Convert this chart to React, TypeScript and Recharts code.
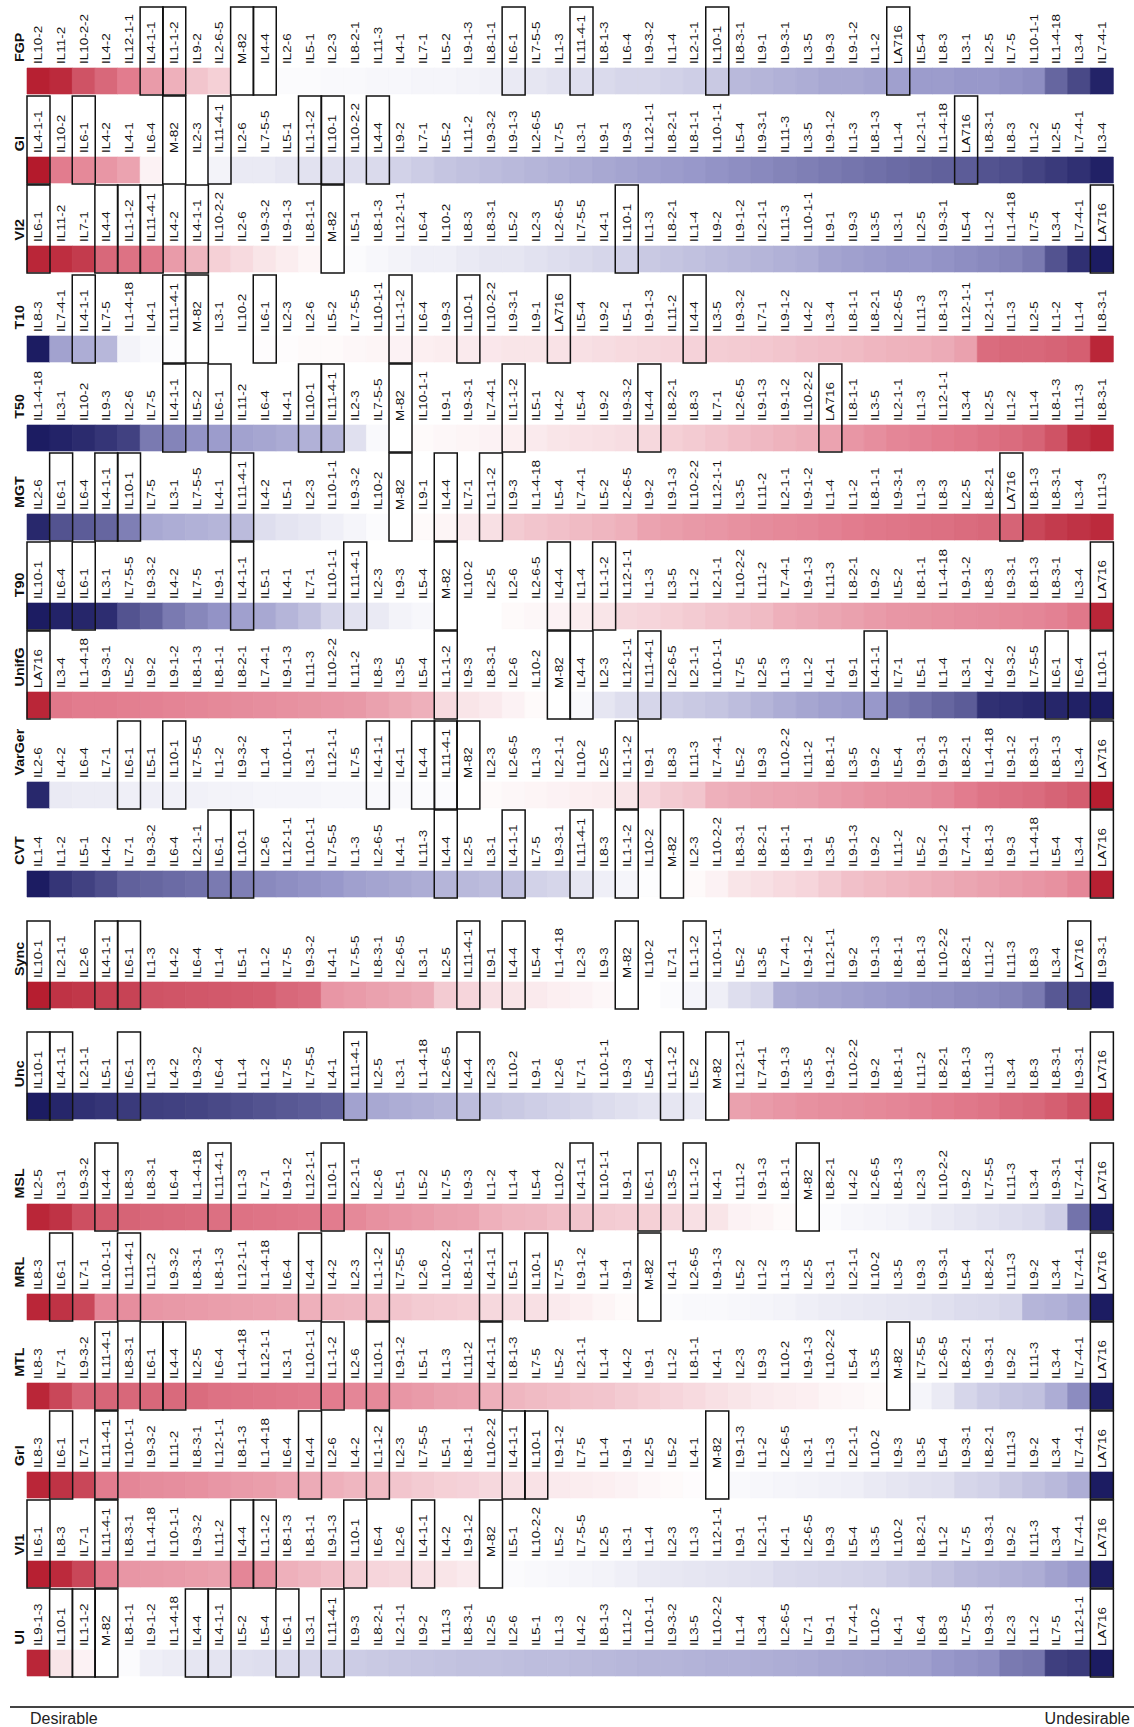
import { Bar, BarChart, Cell, XAxis, YAxis } from 'recharts'

const fgpLines = [
  'IL10-2', 'IL11-2', 'IL10-2-2', 'IL4-2', 'IL12-1-1', 'IL4-1-1', 'IL1-1-2', 'IL9-2',
  'IL2-6-5', 'M-82', 'IL4-4', 'IL2-6', 'IL5-1', 'IL2-3', 'IL8-2-1', 'IL11-3',
  'IL4-1', 'IL7-1', 'IL5-2', 'IL9-1-3', 'IL8-1-1', 'IL6-1', 'IL7-5-5', 'IL1-3',
  'IL11-4-1', 'IL8-1-3', 'IL6-4', 'IL9-3-2', 'IL1-4', 'IL2-1-1', 'IL10-1', 'IL8-3-1',
  'IL9-1', 'IL9-3-1', 'IL3-5', 'IL9-3', 'IL9-1-2', 'IL1-2', 'LA716', 'IL5-4',
  'IL8-3', 'IL3-1', 'IL2-5', 'IL7-5', 'IL10-1-1', 'IL1-4-18', 'IL3-4', 'IL7-4-1',
]
const fgpValues = [
  0.95, 0.9, 0.7, 0.6, 0.5, 0.38, 0.3, 0.22,
  0.18, 0, 0, -0.02, -0.02, -0.03, -0.03, -0.04,
  -0.04, -0.05, -0.05, -0.06, -0.07, -0.1, -0.12, -0.14,
  -0.16, -0.18, -0.2, -0.2, -0.22, -0.24, -0.26, -0.34,
  -0.36, -0.38, -0.4, -0.42, -0.42, -0.44, -0.46, -0.48,
  -0.48, -0.5, -0.5, -0.52, -0.54, -0.7, -0.82, -0.97,
]

const giLines = [
  'IL4-1-1', 'IL10-2', 'IL6-1', 'IL4-2', 'IL4-1', 'IL6-4', 'M-82', 'IL2-3',
  'IL11-4-1', 'IL2-6', 'IL7-5-5', 'IL5-1', 'IL1-1-2', 'IL10-1', 'IL10-2-2', 'IL4-4',
  'IL9-2', 'IL7-1', 'IL5-2', 'IL11-2', 'IL9-3-2', 'IL9-1-3', 'IL2-6-5', 'IL7-5',
  'IL3-1', 'IL9-1', 'IL9-3', 'IL12-1-1', 'IL8-2-1', 'IL8-1-1', 'IL10-1-1', 'IL5-4',
  'IL9-3-1', 'IL11-3', 'IL3-5', 'IL9-1-2', 'IL1-3', 'IL8-1-3', 'IL1-4', 'IL2-1-1',
  'IL1-4-18', 'LA716', 'IL8-3-1', 'IL8-3', 'IL1-2', 'IL2-5', 'IL7-4-1', 'IL3-4',
]
const giValues = [
  0.98, 0.5, 0.45, 0.4, 0.35, 0.05, 0, 0,
  -0.06, -0.1, -0.1, -0.12, -0.14, -0.15, -0.16, -0.18,
  -0.22, -0.25, -0.28, -0.3, -0.32, -0.34, -0.36, -0.38,
  -0.4, -0.42, -0.44, -0.46, -0.48, -0.5, -0.52, -0.54,
  -0.56, -0.58, -0.6, -0.62, -0.64, -0.66, -0.68, -0.7,
  -0.72, -0.74, -0.78, -0.8, -0.84, -0.88, -0.92, -0.98,
]

const vi2Lines = [
  'IL6-1', 'IL11-2', 'IL7-1', 'IL4-4', 'IL1-1-2', 'IL11-4-1', 'IL4-2', 'IL4-1-1',
  'IL10-2-2', 'IL2-6', 'IL9-3-2', 'IL9-1-3', 'IL8-1-1', 'M-82', 'IL5-1', 'IL8-1-3',
  'IL12-1-1', 'IL6-4', 'IL10-2', 'IL8-3', 'IL8-3-1', 'IL5-2', 'IL2-3', 'IL2-6-5',
  'IL7-5-5', 'IL4-1', 'IL10-1', 'IL1-3', 'IL8-2-1', 'IL1-4', 'IL9-2', 'IL9-1-2',
  'IL2-1-1', 'IL11-3', 'IL10-1-1', 'IL9-1', 'IL9-3', 'IL3-5', 'IL3-1', 'IL2-5',
  'IL9-3-1', 'IL5-4', 'IL1-2', 'IL1-4-18', 'IL7-5', 'IL3-4', 'IL7-4-1', 'LA716',
]
const vi2Values = [
  0.92, 0.88, 0.82, 0.6, 0.55, 0.52, 0.38, 0.28,
  0.18, 0.14, 0.1, 0.07, 0.04, 0, -0.02, -0.04,
  -0.06, -0.08, -0.08, -0.1, -0.12, -0.12, -0.14, -0.16,
  -0.18, -0.2, -0.22, -0.26, -0.28, -0.3, -0.32, -0.34,
  -0.36, -0.38, -0.4, -0.44, -0.46, -0.48, -0.5, -0.5,
  -0.52, -0.54, -0.56, -0.58, -0.62, -0.78, -0.92, -1,
]

const t10Lines = [
  'IL8-3', 'IL7-4-1', 'IL4-1-1', 'IL7-5', 'IL1-4-18', 'IL4-1', 'IL11-4-1', 'M-82',
  'IL3-1', 'IL10-2', 'IL6-1', 'IL2-3', 'IL2-6', 'IL5-2', 'IL7-5-5', 'IL10-1-1',
  'IL1-1-2', 'IL6-4', 'IL9-3', 'IL10-1', 'IL10-2-2', 'IL9-3-1', 'IL9-1', 'LA716',
  'IL5-4', 'IL9-2', 'IL5-1', 'IL9-1-3', 'IL11-2', 'IL4-4', 'IL3-5', 'IL9-3-2',
  'IL7-1', 'IL9-1-2', 'IL4-2', 'IL3-4', 'IL8-1-1', 'IL8-2-1', 'IL2-6-5', 'IL11-3',
  'IL8-1-3', 'IL12-1-1', 'IL2-1-1', 'IL1-3', 'IL2-5', 'IL1-2', 'IL1-4', 'IL8-3-1',
]
const t10Values = [
  -1, -0.45, -0.4, -0.35, -0.06, -0.03, -0.01, 0,
  0, 0, 0.01, 0.01, 0.02, 0.02, 0.03, 0.04,
  0.05, 0.06, 0.07, 0.08, 0.09, 0.1, 0.1, 0.11,
  0.12, 0.13, 0.14, 0.15, 0.16, 0.17, 0.19, 0.2,
  0.21, 0.22, 0.24, 0.25, 0.26, 0.28, 0.29, 0.3,
  0.32, 0.36, 0.58, 0.6, 0.6, 0.62, 0.64, 0.92,
]

const t50Lines = [
  'IL1-4-18', 'IL3-1', 'IL10-2', 'IL9-3', 'IL2-6', 'IL7-5', 'IL4-1-1', 'IL5-2',
  'IL6-1', 'IL11-2', 'IL6-4', 'IL4-1', 'IL10-1', 'IL11-4-1', 'IL2-3', 'IL7-5-5',
  'M-82', 'IL10-1-1', 'IL9-1', 'IL9-3-1', 'IL7-4-1', 'IL1-1-2', 'IL5-1', 'IL4-2',
  'IL5-4', 'IL9-2', 'IL9-3-2', 'IL4-4', 'IL8-2-1', 'IL8-3', 'IL7-1', 'IL2-6-5',
  'IL9-1-3', 'IL9-1-2', 'IL10-2-2', 'LA716', 'IL8-1-1', 'IL3-5', 'IL2-1-1', 'IL1-3',
  'IL12-1-1', 'IL3-4', 'IL2-5', 'IL1-2', 'IL1-4', 'IL8-1-3', 'IL11-3', 'IL8-3-1',
]
const t50Values = [
  -1, -0.97, -0.94, -0.9, -0.85, -0.62, -0.58, -0.52,
  -0.48, -0.45, -0.43, -0.41, -0.38, -0.36, -0.15, -0.03,
  0, 0.02, 0.03, 0.04, 0.05, 0.06, 0.08, 0.1,
  0.11, 0.12, 0.13, 0.15, 0.18, 0.2, 0.22, 0.25,
  0.27, 0.29, 0.31, 0.35, 0.4, 0.43, 0.46, 0.48,
  0.5, 0.52, 0.55, 0.58, 0.62, 0.7, 0.86, 0.92,
]

const mgtLines = [
  'IL2-6', 'IL6-1', 'IL6-4', 'IL4-1-1', 'IL10-1', 'IL7-5', 'IL3-1', 'IL7-5-5',
  'IL4-1', 'IL11-4-1', 'IL4-2', 'IL5-1', 'IL2-3', 'IL10-1-1', 'IL9-3-2', 'IL10-2',
  'M-82', 'IL9-1', 'IL4-4', 'IL7-1', 'IL1-1-2', 'IL9-3', 'IL1-4-18', 'IL5-4',
  'IL7-4-1', 'IL5-2', 'IL2-6-5', 'IL9-2', 'IL9-1-3', 'IL10-2-2', 'IL12-1-1', 'IL3-5',
  'IL11-2', 'IL2-1-1', 'IL9-1-2', 'IL1-4', 'IL1-2', 'IL8-1-1', 'IL9-3-1', 'IL1-3',
  'IL8-3', 'IL2-5', 'IL8-2-1', 'LA716', 'IL8-1-3', 'IL8-3-1', 'IL3-4', 'IL11-3',
]
const mgtValues = [
  -0.95, -0.78, -0.74, -0.7, -0.6, -0.42, -0.4, -0.38,
  -0.36, -0.33, -0.16, -0.13, -0.11, -0.08, -0.05, -0.02,
  0, 0.02, 0.04, 0.08, 0.12, 0.2, 0.22, 0.24,
  0.26, 0.28, 0.3, 0.35, 0.37, 0.39, 0.4, 0.42,
  0.44, 0.45, 0.46, 0.48, 0.5, 0.52, 0.53, 0.55,
  0.56, 0.58, 0.6, 0.62, 0.76, 0.82, 0.86, 0.9,
]

const t90Lines = [
  'IL10-1', 'IL6-4', 'IL6-1', 'IL3-1', 'IL7-5-5', 'IL9-3-2', 'IL4-2', 'IL7-5',
  'IL9-1', 'IL4-1-1', 'IL5-1', 'IL4-1', 'IL7-1', 'IL10-1-1', 'IL11-4-1', 'IL2-3',
  'IL9-3', 'IL5-4', 'M-82', 'IL10-2', 'IL2-5', 'IL2-6', 'IL2-6-5', 'IL4-4',
  'IL1-4', 'IL1-1-2', 'IL12-1-1', 'IL1-3', 'IL3-5', 'IL1-2', 'IL2-1-1', 'IL10-2-2',
  'IL11-2', 'IL7-4-1', 'IL9-1-3', 'IL11-3', 'IL8-2-1', 'IL9-2', 'IL5-2', 'IL8-1-1',
  'IL1-4-18', 'IL9-1-2', 'IL8-3', 'IL9-3-1', 'IL8-1-3', 'IL8-3-1', 'IL3-4', 'LA716',
]
const t90Values = [
  -1, -0.97, -0.96, -0.93, -0.78, -0.72, -0.62, -0.57,
  -0.52, -0.46, -0.42, -0.36, -0.3, -0.2, -0.14, -0.1,
  -0.06, -0.04, 0, 0, 0, 0.02, 0.03, 0.05,
  0.07, 0.1, 0.15, 0.16, 0.18, 0.2, 0.22, 0.24,
  0.26, 0.3, 0.32, 0.34, 0.36, 0.38, 0.4, 0.41,
  0.42, 0.43, 0.44, 0.45, 0.46, 0.48, 0.52, 0.92,
]

const unifgLines = [
  'LA716', 'IL3-4', 'IL1-4-18', 'IL9-3-1', 'IL5-2', 'IL9-2', 'IL9-1-2', 'IL8-1-3',
  'IL8-1-1', 'IL8-2-1', 'IL7-4-1', 'IL9-1-3', 'IL11-3', 'IL10-2-2', 'IL11-2', 'IL8-3',
  'IL3-5', 'IL5-4', 'IL1-1-2', 'IL9-3', 'IL8-3-1', 'IL2-6', 'IL10-2', 'M-82',
  'IL4-4', 'IL2-3', 'IL12-1-1', 'IL11-4-1', 'IL2-6-5', 'IL2-1-1', 'IL10-1-1', 'IL7-5',
  'IL2-5', 'IL1-3', 'IL1-2', 'IL4-1', 'IL9-1', 'IL4-1-1', 'IL7-1', 'IL5-1',
  'IL1-4', 'IL3-1', 'IL4-2', 'IL9-3-2', 'IL7-5-5', 'IL6-1', 'IL6-4', 'IL10-1',
]
const unifgValues = [
  0.92, 0.52, 0.5, 0.5, 0.49, 0.48, 0.47, 0.46,
  0.45, 0.44, 0.43, 0.42, 0.41, 0.4, 0.39, 0.36,
  0.33, 0.3, 0.14, 0.1, 0.08, 0.05, 0.02, 0,
  -0.03, -0.12, -0.16, -0.2, -0.24, -0.26, -0.28, -0.32,
  -0.36, -0.4, -0.43, -0.46, -0.48, -0.5, -0.62, -0.66,
  -0.7, -0.74, -0.92, -0.93, -0.95, -0.96, -0.98, -1,
]

const vargerLines = [
  'IL2-6', 'IL4-2', 'IL6-4', 'IL7-1', 'IL6-1', 'IL5-1', 'IL10-1', 'IL7-5-5',
  'IL1-2', 'IL9-3-2', 'IL1-4', 'IL10-1-1', 'IL3-1', 'IL12-1-1', 'IL7-5', 'IL4-1-1',
  'IL4-1', 'IL4-4', 'IL11-4-1', 'M-82', 'IL2-3', 'IL2-6-5', 'IL1-3', 'IL2-1-1',
  'IL10-2', 'IL2-5', 'IL1-1-2', 'IL9-1', 'IL8-3', 'IL11-3', 'IL7-4-1', 'IL5-2',
  'IL9-3', 'IL10-2-2', 'IL11-2', 'IL8-1-1', 'IL3-5', 'IL9-2', 'IL5-4', 'IL9-3-1',
  'IL9-1-3', 'IL8-2-1', 'IL1-4-18', 'IL9-1-2', 'IL8-3-1', 'IL8-1-3', 'IL3-4', 'LA716',
]
const vargerValues = [
  -0.95, -0.1, -0.09, -0.09, -0.08, -0.08, -0.07, -0.07,
  -0.06, -0.06, -0.05, -0.05, -0.05, -0.04, -0.04, -0.03,
  -0.03, -0.02, -0.02, 0, 0.02, 0.03, 0.04, 0.05,
  0.06, 0.07, 0.1, 0.16, 0.2, 0.22, 0.3, 0.32,
  0.34, 0.35, 0.36, 0.38, 0.4, 0.42, 0.43, 0.44,
  0.46, 0.5, 0.54, 0.56, 0.58, 0.62, 0.65, 0.96,
]

const cvtLines = [
  'IL1-4', 'IL1-2', 'IL5-1', 'IL4-2', 'IL7-1', 'IL9-3-2', 'IL6-4', 'IL2-1-1',
  'IL6-1', 'IL10-1', 'IL2-6', 'IL12-1-1', 'IL10-1-1', 'IL7-5-5', 'IL1-3', 'IL2-6-5',
  'IL4-1', 'IL11-3', 'IL4-4', 'IL2-5', 'IL3-1', 'IL4-1-1', 'IL7-5', 'IL9-3-1',
  'IL11-4-1', 'IL8-3', 'IL1-1-2', 'IL10-2', 'M-82', 'IL2-3', 'IL10-2-2', 'IL8-3-1',
  'IL8-2-1', 'IL8-1-1', 'IL9-1', 'IL3-5', 'IL9-1-3', 'IL9-2', 'IL11-2', 'IL5-2',
  'IL9-1-2', 'IL7-4-1', 'IL8-1-3', 'IL9-3', 'IL1-4-18', 'IL5-4', 'IL3-4', 'LA716',
]
const cvtValues = [
  -1, -0.9, -0.85, -0.8, -0.72, -0.7, -0.68, -0.66,
  -0.62, -0.6, -0.56, -0.54, -0.52, -0.5, -0.46, -0.44,
  -0.42, -0.4, -0.36, -0.34, -0.32, -0.3, -0.22, -0.2,
  -0.12, -0.08, -0.05, -0.01, 0, 0.02, 0.05, 0.1,
  0.12, 0.14, 0.16, 0.2, 0.24, 0.26, 0.28, 0.3,
  0.32, 0.34, 0.36, 0.38, 0.4, 0.42, 0.46, 0.95,
]

const syncLines = [
  'IL10-1', 'IL2-1-1', 'IL2-6', 'IL4-1-1', 'IL6-1', 'IL1-3', 'IL4-2', 'IL6-4',
  'IL1-4', 'IL5-1', 'IL1-2', 'IL7-5', 'IL9-3-2', 'IL4-1', 'IL7-5-5', 'IL8-3-1',
  'IL2-6-5', 'IL3-1', 'IL2-5', 'IL11-4-1', 'IL9-1', 'IL4-4', 'IL5-4', 'IL1-4-18',
  'IL2-3', 'IL9-3', 'M-82', 'IL10-2', 'IL7-1', 'IL1-1-2', 'IL10-1-1', 'IL5-2',
  'IL3-5', 'IL7-4-1', 'IL9-1-2', 'IL12-1-1', 'IL9-2', 'IL9-1-3', 'IL8-1-1', 'IL8-1-3',
  'IL10-2-2', 'IL8-2-1', 'IL11-2', 'IL11-3', 'IL8-3', 'IL3-4', 'LA716', 'IL9-3-1',
]
const syncValues = [
  0.96, 0.86, 0.84, 0.8, 0.78, 0.7, 0.69, 0.68,
  0.67, 0.66, 0.65, 0.6, 0.58, 0.4, 0.38, 0.36,
  0.34, 0.32, 0.2, 0.16, 0.12, 0.1, 0.08, 0.06,
  0.05, 0.03, 0, 0, -0.02, -0.05, -0.08, -0.16,
  -0.2, -0.4, -0.42, -0.44, -0.46, -0.48, -0.5, -0.52,
  -0.53, -0.55, -0.56, -0.58, -0.62, -0.76, -0.86, -1,
]

const uncLines = [
  'IL10-1', 'IL4-1-1', 'IL2-1-1', 'IL5-1', 'IL6-1', 'IL1-3', 'IL4-2', 'IL9-3-2',
  'IL6-4', 'IL1-4', 'IL1-2', 'IL7-5', 'IL7-5-5', 'IL4-1', 'IL11-4-1', 'IL2-5',
  'IL3-1', 'IL1-4-18', 'IL2-6-5', 'IL4-4', 'IL2-3', 'IL10-2', 'IL9-1', 'IL2-6',
  'IL7-1', 'IL10-1-1', 'IL9-3', 'IL5-4', 'IL1-1-2', 'IL5-2', 'M-82', 'IL12-1-1',
  'IL7-4-1', 'IL9-1-3', 'IL3-5', 'IL9-1-2', 'IL10-2-2', 'IL9-2', 'IL8-1-1', 'IL11-2',
  'IL8-2-1', 'IL8-1-3', 'IL11-3', 'IL3-4', 'IL8-3', 'IL8-3-1', 'IL9-3-1', 'LA716',
]
const uncValues = [
  -1, -0.96, -0.92, -0.9, -0.88, -0.86, -0.85, -0.84,
  -0.82, -0.8, -0.78, -0.76, -0.74, -0.72, -0.45, -0.42,
  -0.4, -0.38, -0.36, -0.32, -0.28, -0.26, -0.24, -0.22,
  -0.2, -0.17, -0.15, -0.13, -0.12, -0.1, 0, 0.36,
  0.38, 0.4, 0.42, 0.43, 0.44, 0.45, 0.46, 0.48,
  0.5, 0.52, 0.54, 0.58, 0.6, 0.64, 0.7, 0.92,
]

const mslLines = [
  'IL2-5', 'IL3-1', 'IL9-3-2', 'IL4-4', 'IL8-3', 'IL8-3-1', 'IL6-4', 'IL1-4-18',
  'IL11-4-1', 'IL1-3', 'IL7-1', 'IL9-1-2', 'IL12-1-1', 'IL10-1', 'IL2-1-1', 'IL2-6',
  'IL5-1', 'IL5-2', 'IL7-5', 'IL9-3', 'IL1-2', 'IL1-4', 'IL5-4', 'IL10-2',
  'IL4-1-1', 'IL10-1-1', 'IL9-1', 'IL6-1', 'IL3-5', 'IL1-1-2', 'IL4-1', 'IL11-2',
  'IL9-1-3', 'IL8-1-1', 'M-82', 'IL8-2-1', 'IL4-2', 'IL2-6-5', 'IL8-1-3', 'IL2-3',
  'IL10-2-2', 'IL9-2', 'IL7-5-5', 'IL11-3', 'IL3-4', 'IL9-3-1', 'IL7-4-1', 'LA716',
]
const mslValues = [
  0.92, 0.86, 0.72, 0.66, 0.62, 0.6, 0.59, 0.58,
  0.56, 0.55, 0.54, 0.53, 0.52, 0.5, 0.45, 0.42,
  0.4, 0.38, 0.36, 0.35, 0.3, 0.28, 0.27, 0.25,
  0.22, 0.2, 0.19, 0.18, 0.15, 0.12, 0.1, 0.05,
  0.04, 0.02, 0, -0.02, -0.04, -0.05, -0.06, -0.08,
  -0.1, -0.12, -0.14, -0.16, -0.18, -0.24, -0.65, -1,
]

const mrlLines = [
  'IL8-3', 'IL6-1', 'IL7-1', 'IL10-1-1', 'IL11-4-1', 'IL11-2', 'IL9-3-2', 'IL8-3-1',
  'IL8-1-3', 'IL12-1-1', 'IL1-4-18', 'IL6-4', 'IL4-4', 'IL4-2', 'IL2-3', 'IL1-1-2',
  'IL7-5-5', 'IL2-6', 'IL10-2-2', 'IL8-1-1', 'IL4-1-1', 'IL5-1', 'IL10-1', 'IL7-5',
  'IL9-1-2', 'IL1-4', 'IL9-1', 'M-82', 'IL4-1', 'IL2-6-5', 'IL9-1-3', 'IL5-2',
  'IL1-2', 'IL1-3', 'IL2-5', 'IL3-1', 'IL2-1-1', 'IL10-2', 'IL3-5', 'IL9-3',
  'IL9-3-1', 'IL5-4', 'IL8-2-1', 'IL11-3', 'IL9-2', 'IL3-4', 'IL7-4-1', 'LA716',
]
const mrlValues = [
  0.92, 0.86, 0.76, 0.46, 0.43, 0.4, 0.39, 0.38,
  0.37, 0.36, 0.35, 0.34, 0.3, 0.28, 0.27, 0.25,
  0.22, 0.2, 0.19, 0.18, 0.15, 0.13, 0.12, 0.08,
  0.06, 0.04, 0.02, 0, -0.02, -0.03, -0.03, -0.04,
  -0.05, -0.06, -0.08, -0.09, -0.1, -0.11, -0.12, -0.13,
  -0.15, -0.17, -0.18, -0.2, -0.36, -0.38, -0.42, -1,
]

const mtlLines = [
  'IL8-3', 'IL7-1', 'IL9-3-2', 'IL11-4-1', 'IL8-3-1', 'IL6-1', 'IL4-4', 'IL2-5',
  'IL6-4', 'IL1-4-18', 'IL12-1-1', 'IL3-1', 'IL10-1-1', 'IL1-1-2', 'IL2-6', 'IL10-1',
  'IL9-1-2', 'IL5-1', 'IL1-3', 'IL11-2', 'IL4-1-1', 'IL8-1-3', 'IL7-5', 'IL5-2',
  'IL2-1-1', 'IL1-4', 'IL4-2', 'IL9-1', 'IL1-2', 'IL8-1-1', 'IL4-1', 'IL2-3',
  'IL9-3', 'IL10-2', 'IL9-1-3', 'IL10-2-2', 'IL5-4', 'IL3-5', 'M-82', 'IL7-5-5',
  'IL2-6-5', 'IL8-2-1', 'IL9-3-1', 'IL9-2', 'IL11-3', 'IL3-4', 'IL7-4-1', 'LA716',
]
const mtlValues = [
  0.92, 0.76, 0.62, 0.61, 0.6, 0.6, 0.59, 0.58,
  0.55, 0.54, 0.53, 0.52, 0.51, 0.5, 0.46, 0.45,
  0.4, 0.38, 0.36, 0.35, 0.3, 0.28, 0.26, 0.25,
  0.23, 0.22, 0.2, 0.18, 0.16, 0.14, 0.12, 0.1,
  0.08, 0.07, 0.06, 0.04, 0.03, 0.02, 0, -0.05,
  -0.1, -0.2, -0.25, -0.28, -0.3, -0.4, -0.55, -1,
]

const griLines = [
  'IL8-3', 'IL6-1', 'IL7-1', 'IL11-4-1', 'IL10-1-1', 'IL9-3-2', 'IL11-2', 'IL8-3-1',
  'IL12-1-1', 'IL8-1-3', 'IL1-4-18', 'IL6-4', 'IL4-4', 'IL2-6', 'IL4-2', 'IL1-1-2',
  'IL2-3', 'IL7-5-5', 'IL5-1', 'IL8-1-1', 'IL10-2-2', 'IL4-1-1', 'IL10-1', 'IL9-1-2',
  'IL7-5', 'IL1-4', 'IL9-1', 'IL2-5', 'IL5-2', 'IL4-1', 'M-82', 'IL9-1-3',
  'IL1-2', 'IL2-6-5', 'IL3-1', 'IL1-3', 'IL2-1-1', 'IL10-2', 'IL9-3', 'IL3-5',
  'IL5-4', 'IL9-3-1', 'IL8-2-1', 'IL11-3', 'IL9-2', 'IL3-4', 'IL7-4-1', 'LA716',
]
const griValues = [
  0.92, 0.86, 0.76, 0.5, 0.46, 0.44, 0.43, 0.42,
  0.4, 0.38, 0.37, 0.35, 0.32, 0.3, 0.28, 0.26,
  0.22, 0.2, 0.18, 0.17, 0.15, 0.12, 0.11, 0.08,
  0.07, 0.06, 0.05, 0.03, 0.02, 0.01, 0, -0.03,
  -0.04, -0.05, -0.06, -0.07, -0.08, -0.1, -0.12, -0.14,
  -0.15, -0.2, -0.22, -0.26, -0.3, -0.34, -0.4, -1,
]

const vi1Lines = [
  'IL6-1', 'IL8-3', 'IL7-1', 'IL11-4-1', 'IL8-3-1', 'IL1-4-18', 'IL10-1-1', 'IL9-3-2',
  'IL11-2', 'IL4-4', 'IL1-1-2', 'IL8-1-3', 'IL8-1-1', 'IL9-1-3', 'IL10-1', 'IL6-4',
  'IL2-6', 'IL4-1-1', 'IL4-2', 'IL9-1-2', 'M-82', 'IL5-1', 'IL10-2-2', 'IL5-2',
  'IL7-5-5', 'IL2-5', 'IL3-1', 'IL1-4', 'IL2-3', 'IL1-3', 'IL12-1-1', 'IL9-1',
  'IL2-1-1', 'IL4-1', 'IL2-6-5', 'IL9-3', 'IL5-4', 'IL3-5', 'IL10-2', 'IL8-2-1',
  'IL1-2', 'IL7-5', 'IL9-3-1', 'IL9-2', 'IL11-3', 'IL3-4', 'IL7-4-1', 'LA716',
]
const vi1Values = [
  0.95, 0.9, 0.76, 0.5, 0.4, 0.39, 0.38, 0.37,
  0.36, 0.46, 0.42, 0.3, 0.28, 0.25, 0.2, 0.16,
  0.15, 0.12, 0.1, 0.08, 0, -0.02, -0.03, -0.04,
  -0.05, -0.06, -0.08, -0.1, -0.11, -0.12, -0.13, -0.14,
  -0.15, -0.18, -0.19, -0.2, -0.21, -0.22, -0.25, -0.27,
  -0.3, -0.34, -0.36, -0.38, -0.4, -0.45, -0.5, -1,
]

const uiLines = [
  'IL9-1-3', 'IL10-1', 'IL1-1-2', 'M-82', 'IL8-1-1', 'IL9-1-2', 'IL1-4-18', 'IL4-4',
  'IL4-1-1', 'IL5-2', 'IL5-4', 'IL6-1', 'IL3-1', 'IL11-4-1', 'IL9-3', 'IL8-2-1',
  'IL2-1-1', 'IL9-2', 'IL11-3', 'IL8-3-1', 'IL2-5', 'IL2-6', 'IL5-1', 'IL1-3',
  'IL4-2', 'IL8-1-3', 'IL11-2', 'IL10-1-1', 'IL9-3-2', 'IL3-5', 'IL10-2-2', 'IL1-4',
  'IL3-4', 'IL2-6-5', 'IL7-1', 'IL9-1', 'IL7-4-1', 'IL10-2', 'IL4-1', 'IL6-4',
  'IL8-3', 'IL7-5-5', 'IL9-3-1', 'IL2-3', 'IL1-2', 'IL7-5', 'IL12-1-1', 'LA716',
]
const uiValues = [
  0.92, 0.1, 0.05, 0, -0.02, -0.08, -0.09, -0.12,
  -0.13, -0.15, -0.16, -0.18, -0.2, -0.21, -0.25, -0.26,
  -0.27, -0.28, -0.29, -0.3, -0.3, -0.31, -0.32, -0.32,
  -0.33, -0.34, -0.35, -0.36, -0.36, -0.37, -0.38, -0.38,
  -0.39, -0.4, -0.41, -0.42, -0.43, -0.44, -0.45, -0.46,
  -0.5, -0.52, -0.54, -0.62, -0.64, -0.86, -0.88, -1,
]

// genotypes outlined in every row
const boxedLines = ['IL4-1-1', 'IL1-1-2', 'M-82', 'IL4-4', 'IL6-1', 'IL11-4-1', 'IL10-1', 'LA716']

const rows = [
  { trait: 'FGP', lines: fgpLines, values: fgpValues },
  { trait: 'GI', lines: giLines, values: giValues },
  { trait: 'VI2', lines: vi2Lines, values: vi2Values },
  { trait: 'T10', lines: t10Lines, values: t10Values },
  { trait: 'T50', lines: t50Lines, values: t50Values },
  { trait: 'MGT', lines: mgtLines, values: mgtValues },
  { trait: 'T90', lines: t90Lines, values: t90Values },
  { trait: 'UnifG', lines: unifgLines, values: unifgValues },
  { trait: 'VarGer', lines: vargerLines, values: vargerValues },
  { trait: 'CVT', lines: cvtLines, values: cvtValues },
  { trait: 'Sync', lines: syncLines, values: syncValues },
  { trait: 'Unc', lines: uncLines, values: uncValues },
  { trait: 'MSL', lines: mslLines, values: mslValues },
  { trait: 'MRL', lines: mrlLines, values: mrlValues },
  { trait: 'MTL', lines: mtlLines, values: mtlValues },
  { trait: 'GrI', lines: griLines, values: griValues },
  { trait: 'VI1', lines: vi1Lines, values: vi1Values },
  { trait: 'UI', lines: uiLines, values: uiValues },
]

// layout
const W = 1134
const H = 1727
const PLOT_LEFT = 27
const PLOT_RIGHT = 21
const FIRST_STRIP = 68
const PITCH = 89.2
const GROUP_GAP = 22
const groupBreaks = ['Sync', 'Unc', 'MSL']
const LABEL_BAND = 60
const CHART_H = 100
const FONT = '"Liberation Sans", Arial, sans-serif'

function stripTopOf(index: number) {
  let top = FIRST_STRIP + index * PITCH
  for (let k = 1; k <= index; k += 1) {
    if (groupBreaks.includes(rows[k].trait)) top += GROUP_GAP
  }
  return top
}

const redStops = [[255, 255, 255], [226, 124, 142], [178, 22, 40]]
const blueStops = [[255, 255, 255], [152, 152, 202], [28, 28, 98]]

function heat(v: number) {
  const stops = v >= 0 ? redStops : blueStops
  const t = Math.min(1, Math.abs(v)) * 2
  const i = t < 1 ? 0 : 1
  const f = t - i
  const c = stops[i].map((a, k) => Math.round(a + (stops[i + 1][k] - a) * f))
  return `rgb(${c[0]},${c[1]},${c[2]})`
}

// genotype names sit upright above each cell, a little stretched along the text like the original
function LineTick(props: any) {
  const { x, payload } = props
  return (
    <text
      transform={`translate(${x},${FIRST_STRIP - 4}) rotate(-90) scale(1.17,1)`}
      dy="0.35em"
      textAnchor="start"
      fontSize={11.5}
      fontFamily={FONT}
      fill="#111"
    >
      {payload.value}
    </text>
  )
}

function BoxShape(props: any) {
  const boxed = props.payload?.boxed ?? props.boxed
  if (!boxed) return <g />
  return (
    <rect
      x={props.x}
      y={props.y - 61}
      width={props.width}
      height={props.height + 62}
      fill="none"
      stroke="#111"
      strokeWidth={1.5}
    />
  )
}

function TraitRow({ row, index }: { row: (typeof rows)[number]; index: number }) {
  const data = row.lines.map((name, i) => ({
    name,
    value: row.values[i] ?? 0,
    cell: 1,
    boxed: boxedLines.includes(name),
  }))
  const top = stripTopOf(index) - FIRST_STRIP

  return (
    <div style={{ position: 'absolute', left: 0, top }}>
      <BarChart
        width={W}
        height={CHART_H}
        data={data}
        margin={{ top: FIRST_STRIP - LABEL_BAND, right: PLOT_RIGHT, bottom: 6, left: PLOT_LEFT }}
        barCategoryGap={0}
        barGap={0}
      >
        <XAxis
          xAxisId="cells"
          dataKey="name"
          type="category"
          orientation="top"
          height={LABEL_BAND}
          interval={0}
          tickLine={false}
          axisLine={false}
          tick={<LineTick />}
        />
        <XAxis xAxisId="boxes" dataKey="name" type="category" hide />
        <YAxis hide domain={[0, 1]} />
        <Bar xAxisId="cells" dataKey="cell" isAnimationActive={false}>
          {data.map((d) => (
            <Cell key={d.name} fill={heat(d.value)} stroke={heat(d.value)} strokeWidth={0.6} />
          ))}
        </Bar>
        <Bar xAxisId="boxes" dataKey="cell" isAnimationActive={false} shape={BoxShape} />
      </BarChart>
    </div>
  )
}

export default function App() {
  return (
    <div style={{ position: 'absolute', left: 0, top: 0, width: W, height: H, background: '#fff', overflow: 'hidden' }}>
      {rows.map((row, i) => (
        <TraitRow key={row.trait} row={row} index={i} />
      ))}
      <svg width={W} height={H} style={{ position: 'absolute', left: 0, top: 0, pointerEvents: 'none' }}>
        {rows.map((row, i) => (
          <text
            key={row.trait}
            transform={`translate(19,${stripTopOf(i) - 6}) rotate(-90) scale(1.1,1)`}
            dy="0.35em"
            fontSize={13}
            fontWeight="bold"
            fontFamily={FONT}
            fill="#111"
          >
            {row.trait}
          </text>
        ))}
        <line x1={10} x2={W} y1={1707} y2={1707} stroke="#444" strokeWidth={2} />
        <text x={30} y={1724} fontSize={16} fontFamily={FONT} fill="#222">
          Desirable
        </text>
        <text x={1130} y={1724} fontSize={16} fontFamily={FONT} fill="#222" textAnchor="end">
          Undesirable
        </text>
      </svg>
    </div>
  )
}
